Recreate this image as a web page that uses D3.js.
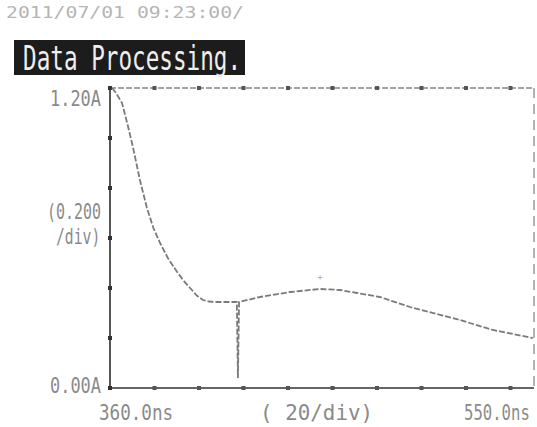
<!DOCTYPE html>
<html>
<head>
<meta charset="utf-8">
<script src="https://cdn.jsdelivr.net/npm/d3@7"></script>
<style>
  body { margin: 0; background: #fff; }
  svg { display: block; }
</style>
</head>
<body>
<div id="chart"></div>
<script>
'use strict';

// trace: time (ns) and current (A)
const time_ns = [361.0, 363.0, 365.4, 368.0, 370.3, 373.5, 376.6, 379.5, 382.5, 386.0, 390.1, 393.0,
  396.0, 399.0, 401.8, 404.5, 407.2, 417.0, 417.5, 418.0, 427.4, 440.9, 454.4, 463.4, 471.0, 481.3,
  494.8, 517.3, 532.1, 550.0]
const current_a = [1.20, 1.176, 1.140, 1.05, 0.964, 0.83, 0.72, 0.64, 0.58, 0.52, 0.465, 0.43,
  0.40, 0.37, 0.352, 0.346, 0.344, 0.344, 0.04, 0.344, 0.364, 0.384, 0.396, 0.392, 0.38, 0.364,
  0.324, 0.272, 0.232, 0.20]
const x_ticks = [360, 380, 400, 420, 440, 460, 480, 500, 520, 540]
const y_ticks = [0, 0.2, 0.4, 0.6, 0.8, 1.0, 1.2]
const marker = [454.4, 0.43]

const width = 537, height = 427
const frame = { left: 110, top: 88, right: 534, bottom: 388 }

const svg = d3.select('#chart').append('svg')
  .attr('width', width)
  .attr('height', height)

// x scale: 20 ns per division, 44.5 px per division
const xScale = d3.scaleLinear()
  .domain([360, 550])
  .range([frame.left, frame.left + 190 * 44.5 / 20])
const yScale = d3.scaleLinear()
  .domain([0, 1.2])
  .range([frame.bottom, frame.top])

// header stamp
svg.append('text')
  .attr('x', 6).attr('y', 18)
  .attr('fill', '#b5b5b5')
  .style('font-family', 'DejaVu Sans Mono')
  .style('font-size', '15px')
  .attr('textLength', 238)
  .attr('lengthAdjust', 'spacingAndGlyphs')
  .text('2011/07/01 09:23:00/')

// title box
svg.append('rect')
  .attr('x', 14).attr('y', 40)
  .attr('width', 231).attr('height', 35)
  .attr('fill', '#1c1c1c')
svg.append('text')
  .attr('x', 23).attr('y', 70)
  .attr('fill', '#eeeeee')
  .style('font-family', 'DejaVu Sans Mono')
  .style('font-size', '34px')
  .attr('textLength', 218)
  .attr('lengthAdjust', 'spacingAndGlyphs')
  .text('Data Processing.')

// frame
const frame_g = svg.append('g')
frame_g.append('line')
  .attr('x1', frame.left).attr('x2', frame.right)
  .attr('y1', frame.top).attr('y2', frame.top)
  .attr('stroke', '#888').attr('stroke-width', 1.5)
  .attr('stroke-dasharray', '6,2')
frame_g.append('line')
  .attr('x1', frame.left).attr('x2', frame.right)
  .attr('y1', frame.bottom).attr('y2', frame.bottom)
  .attr('stroke', '#666').attr('stroke-width', 2)
frame_g.append('line')
  .attr('x1', frame.left).attr('x2', frame.left)
  .attr('y1', frame.top).attr('y2', frame.bottom)
  .attr('stroke', '#555').attr('stroke-width', 2)
frame_g.append('line')
  .attr('x1', frame.right).attr('x2', frame.right)
  .attr('y1', frame.top).attr('y2', frame.bottom)
  .attr('stroke', '#999').attr('stroke-width', 1.5)
  .attr('stroke-dasharray', '10,6')

// division dots
frame_g.selectAll('.xdot-top')
  .data(x_ticks)
  .join('rect')
  .attr('x', d => xScale(d) - 2).attr('y', frame.top - 2)
  .attr('width', 4).attr('height', 4)
  .attr('fill', '#555')
frame_g.selectAll('.xdot-bot')
  .data(x_ticks)
  .join('rect')
  .attr('x', d => xScale(d) - 2).attr('y', frame.bottom - 2)
  .attr('width', 4).attr('height', 4)
  .attr('fill', '#555')
frame_g.selectAll('.ydot')
  .data(y_ticks)
  .join('rect')
  .attr('x', frame.left - 2).attr('y', d => yScale(d) - 2)
  .attr('width', 4).attr('height', 4)
  .attr('fill', '#333')

// axis labels, squeezed sideways like the scope font
const add_label = function(x, y, sx, txt){
  svg.append('g')
    .attr('transform', `translate(${x},${y}) scale(${sx},1)`)
    .append('text')
    .attr('fill', '#8a8a8a')
    .style('font-family', 'DejaVu Sans Mono')
    .style('font-size', '22px')
    .text(txt)
}
add_label(50, 106, 0.77, '1.20A')
add_label(47, 219, 0.68, '(0.200')
add_label(56, 244, 0.67, '/div)')
add_label(50, 393, 0.77, '0.00A')
add_label(99, 420, 0.80, '360.0ns')
add_label(260, 420, 0.95, '( 20/div)')
add_label(464, 420, 0.71, '550.0ns')

// trace
const data = time_ns.map((t, i) => ({ t: t, a: current_a[i] }))
const line = d3.line()
  .x(d => xScale(d.t))
  .y(d => yScale(d.a))
svg.append('path')
  .datum(data)
  .attr('d', line)
  .attr('fill', 'none')
  .attr('stroke', '#7a7a7a')
  .attr('stroke-width', 1.8)
  .attr('stroke-dasharray', '6,2')

// small cursor marker above the hump
svg.append('text')
  .attr('x', xScale(marker[0])).attr('y', yScale(marker[1]))
  .attr('text-anchor', 'middle')
  .attr('fill', '#888')
  .style('font-size', '10px')
  .text('+')
</script>
</body>
</html>
